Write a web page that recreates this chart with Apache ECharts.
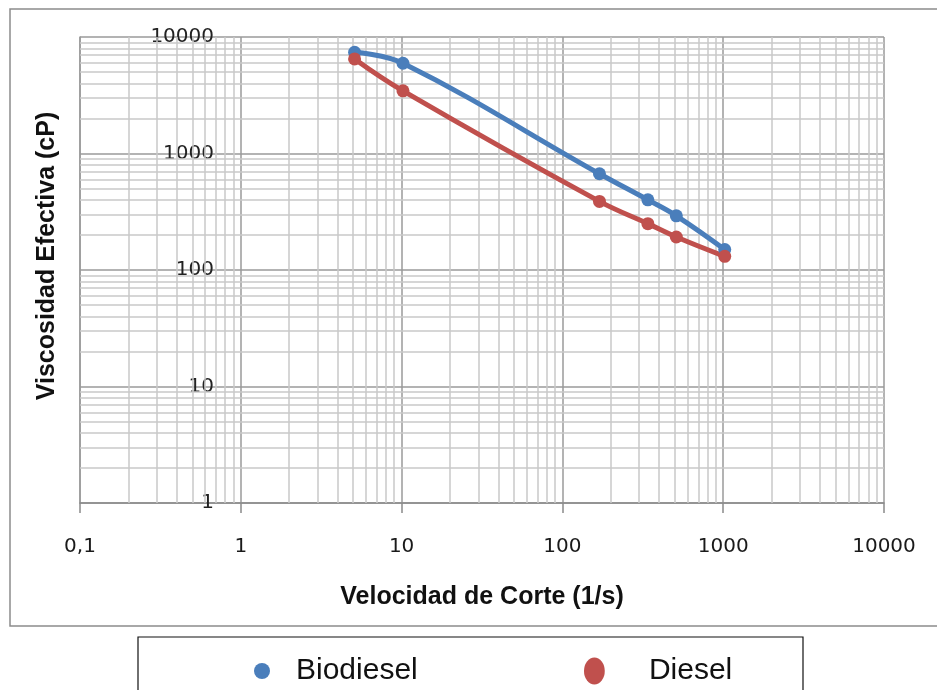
<!DOCTYPE html>
<html>
<head>
<meta charset="utf-8">
<script src="https://cdn.jsdelivr.net/npm/echarts@6/dist/echarts.min.js"></script>
<style>html,body{margin:0;padding:0;background:#fff}#c{width:937px;height:690px}</style>
</head>
<body>
<div id="c"></div>
<script>
// ---- data ----
const shearRate = [5.1, 10.2, 170, 340, 511, 1022];           // Velocidad de Corte (1/s)
const biodiesel = [7400, 5950, 670, 400, 292, 150];           // cP
const diesel    = [6480, 3450, 388, 250, 192, 131];           // cP
const xTickLabels = ['0,1', '1', '10', '100', '1000', '10000'];
const yTickLabels = ['1', '10', '100', '1000', '10000'];
const xDecades = [0.1, 1, 10, 100, 1000];
const yDecades = [1, 10, 100, 1000];
const minorSteps = [2, 3, 4, 5, 6, 7, 8, 9];

const chart = echarts.init(document.getElementById('c'), null, {renderer: 'canvas'});

const minorLines = [];
xDecades.forEach(d => minorSteps.forEach(k => minorLines.push({xAxis: d * k})));
yDecades.forEach(d => minorSteps.forEach(k => minorLines.push({yAxis: d * k})));

const pairs = (ys) => shearRate.map((x, i) => [x, ys[i]]);
const BLUE = '#4A7EBB', RED = '#C0504D';

chart.setOption({
  backgroundColor: '#fff',
  animation: false,
  grid: {left: 80, top: 37, right: 53, bottom: 187, containLabel: false},
  xAxis: {
    type: 'log', logBase: 10, min: 0.1, max: 10000,
    name: 'Velocidad de Corte (1/s)', nameLocation: 'middle', nameGap: 82,
    nameTextStyle: {fontFamily: 'Liberation Sans', fontWeight: 'bold', fontSize: 25, color: '#111'},
    axisLine: {show: true, lineStyle: {color: '#8a8a8a', width: 1.5}},
    axisTick: {show: true, length: 10, lineStyle: {color: '#8a8a8a', width: 1.5}},
    axisLabel: {
      margin: 34, fontFamily: 'DejaVu Sans', fontSize: 20, color: '#1a1a1a',
      formatter: v => xTickLabels[Math.round(Math.log10(v)) + 1]
    },
    splitLine: {show: true, lineStyle: {color: '#9a9a9a', width: 1.5}},
    z: 3
  },
  yAxis: {
    type: 'log', logBase: 10, min: 1, max: 10000,
    name: 'Viscosidad Efectiva (cP)', nameLocation: 'middle', nameRotate: 90, nameGap: 20,
    nameTextStyle: {fontFamily: 'Liberation Sans', fontWeight: 'bold', fontSize: 25, color: '#111', padding: [0, 0, 0, 28]},
    axisLine: {show: true, lineStyle: {color: '#9a9a9a', width: 1.5}},
    axisTick: {show: false},
    axisLabel: {
      margin: -134, fontFamily: 'DejaVu Sans', fontSize: 20, color: '#222',
      formatter: v => yTickLabels[Math.round(Math.log10(v))]
    },
    splitLine: {show: true, lineStyle: {color: '#9a9a9a', width: 1.5}},
    z: 3
  },
  legend: [
    {
      data: [{name: 'Biodiesel', icon: 'circle'}],
      left: 249, top: 651, itemWidth: 16, itemHeight: 16, selectedMode: false,
      textStyle: {fontFamily: 'Liberation Sans', fontSize: 30, color: '#111', padding: [0, 0, 0, 21]}
    },
    {
      data: [{name: 'Diesel', icon: 'path://M10,0A10,13 0 1,1 10,26A10,13 0 1,1 10,0Z'}],
      left: 579, top: 651, itemWidth: 21, itemHeight: 27, selectedMode: false,
      textStyle: {fontFamily: 'Liberation Sans', fontSize: 30, color: '#111', padding: [0, 0, 0, 39]}
    }
  ],
  graphic: [
    {type: 'rect', shape: {x: 10, y: 9, width: 940, height: 617}, style: {fill: 'none', stroke: '#8c8c8c', lineWidth: 1.5}, silent: true, z: -10},
    {type: 'rect', shape: {x: 138, y: 637, width: 665, height: 90}, style: {fill: 'none', stroke: '#111', lineWidth: 1.2}, silent: true, z: -10}
  ],
  series: [
    {
      name: 'grid-minor', type: 'line', data: [], silent: true, z: 1,
      markLine: {
        silent: true, symbol: 'none', animation: false,
        label: {show: false},
        lineStyle: {type: 'solid', color: '#c8c8c8', width: 1.5},
        emphasis: {disabled: true},
        data: minorLines
      }
    },
    {
      name: 'Biodiesel', type: 'line', data: pairs(biodiesel), smooth: 0.4,
      symbol: 'circle', symbolSize: 13, z: 5,
      lineStyle: {color: BLUE, width: 5},
      itemStyle: {color: BLUE}
    },
    {
      name: 'Diesel', type: 'line', data: pairs(diesel), smooth: 0.4,
      symbol: 'circle', symbolSize: 13, z: 5,
      lineStyle: {color: RED, width: 5},
      itemStyle: {color: RED}
    }
  ]
});
</script>
</body>
</html>
